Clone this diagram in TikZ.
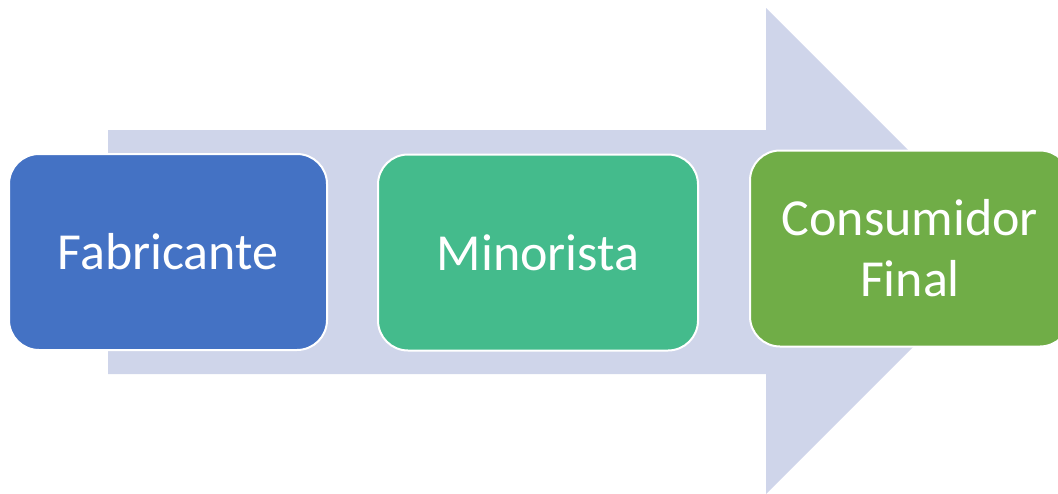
\documentclass[tikz,border=0pt]{standalone}
\usepackage{fontspec}
\setmainfont{Carlito}
\definecolor{arrowfill}{HTML}{CFD5EA}
\definecolor{stepblue}{HTML}{4472C4}
\definecolor{stepteal}{HTML}{44BB8C}
\definecolor{stepgreen}{HTML}{70AD47}
\tikzset{
  stagebox/.style={rectangle, rounded corners=30pt, draw=white, line width=2pt,
    minimum width=318pt, minimum height=196pt, text=white, align=center,
    font=\fontsize{52}{61}\selectfont, inner sep=0pt},
}
\begin{document}
\begin{tikzpicture}[x=1pt,y=-1pt]
\useasboundingbox (0,0) rectangle (1058,493);
\clip (0,0) rectangle (1058,493);
% broad background arrow
\fill[arrowfill] (108,130) -- (766,130) -- (766,8) -- (1009,251)
  -- (766,494) -- (766,374) -- (108,374) -- cycle;
% process stages
\node[stagebox, fill=stepblue] (fab) at (168,252) {Fabricante};
\node[stagebox, fill=stepteal, minimum width=320pt] (min) at (538,252.5) {Minorista};
\node[stagebox, fill=stepgreen, minimum width=320pt] (con) at (910,248.5) {Consumidor\\Final};
\end{tikzpicture}
\end{document}
